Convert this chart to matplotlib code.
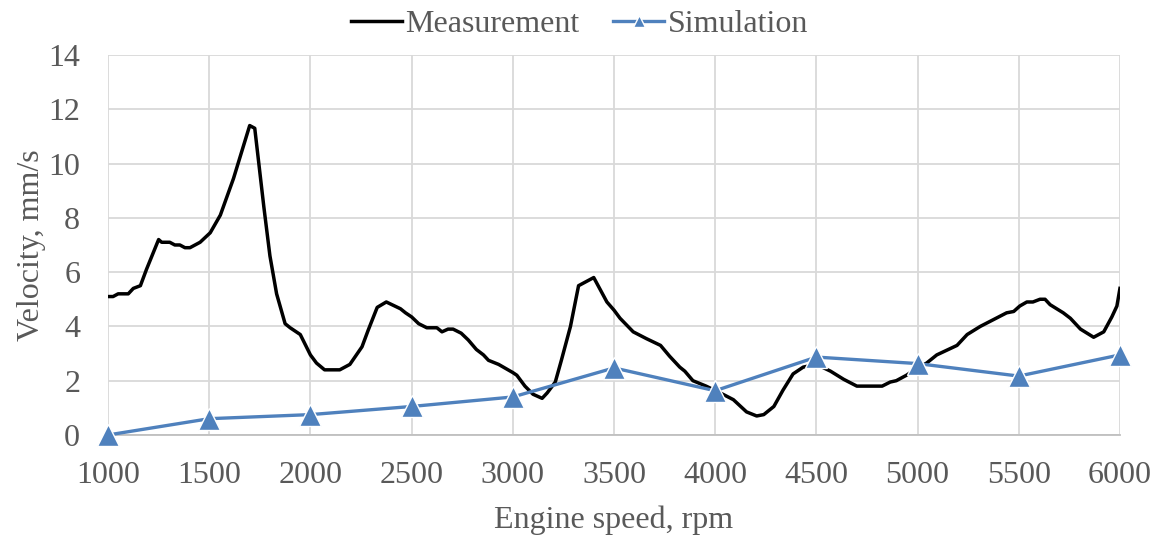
import matplotlib
matplotlib.use("Agg")
import matplotlib.pyplot as plt

meas_rpm = [1000, 1025, 1050, 1100, 1125, 1160, 1190, 1250, 1265, 1305, 1330, 1355, 1380, 1405,
            1455, 1505, 1555, 1620, 1700, 1725, 1770, 1800, 1833, 1875, 1900, 1950, 2000, 2030,
            2070, 2145, 2195, 2255, 2285, 2330, 2375, 2445, 2470, 2500, 2535, 2575, 2625, 2650,
            2680, 2705, 2745, 2780, 2820, 2855, 2880, 2930, 3000, 3020, 3060, 3100, 3145, 3170,
            3210, 3240, 3285, 3325, 3400, 3465, 3500, 3530, 3595, 3660, 3730, 3775, 3825, 3850,
            3890, 3955, 4025, 4090, 4155, 4205, 4240, 4290, 4335, 4385, 4435, 4500, 4570, 4635,
            4700, 4825, 4865, 4895, 4945, 4995, 5045, 5095, 5195, 5245, 5310, 5375, 5440, 5475,
            5505, 5540, 5570, 5605, 5630, 5655, 5720, 5755, 5805, 5870, 5920, 5960, 5985, 6000]
meas_vel = [5.1, 5.1, 5.2, 5.2, 5.4, 5.5, 6.1, 7.2, 7.1, 7.1, 7.0, 7.0, 6.9, 6.9,
            7.1, 7.45, 8.1, 9.45, 11.4, 11.3, 8.4, 6.6, 5.2, 4.1, 3.95, 3.7, 2.95, 2.65,
            2.4, 2.4, 2.6, 3.25, 3.85, 4.7, 4.9, 4.65, 4.5, 4.35, 4.1, 3.95, 3.95, 3.8,
            3.9, 3.9, 3.75, 3.5, 3.15, 2.95, 2.75, 2.6, 2.3, 2.2, 1.8, 1.5, 1.35, 1.55,
            1.95, 2.75, 4.0, 5.5, 5.8, 4.9, 4.6, 4.3, 3.8, 3.55, 3.3, 2.9, 2.5, 2.35,
            2.0, 1.8, 1.55, 1.3, 0.85, 0.7, 0.75, 1.05, 1.65, 2.25, 2.5, 2.6, 2.35, 2.05,
            1.8, 1.8, 1.95, 2.0, 2.2, 2.45, 2.65, 2.95, 3.3, 3.7, 4.0, 4.25, 4.5, 4.55,
            4.75, 4.9, 4.9, 5.0, 5.0, 4.8, 4.5, 4.3, 3.9, 3.6, 3.8, 4.35, 4.75, 5.4]

# simulated velocity
sim_rpm = [1000, 1500, 2000, 2500, 3000, 3500, 4000, 4500, 5000, 5500, 6000]
sim_vel = [0.0, 0.6, 0.75, 1.05, 1.4, 2.47, 1.63, 2.87, 2.63, 2.17, 2.95]

grey = "#595959"
fs = 23
plt.rcParams['font.family'] = ['Liberation Serif', 'DejaVu Serif']

fig = plt.figure(figsize=(11.59, 5.37), dpi=100)
ax = fig.add_axes([0.0932, 0.19, 0.8731, 0.7076])

ax.plot(meas_rpm, meas_vel, color="black", lw=2.5, label="Measurement", zorder=3)
ax.plot(sim_rpm, sim_vel, color="#4F81BD", lw=2.4, marker="^", markersize=16,
        markeredgecolor="white", markeredgewidth=1, label="Simulation", zorder=4,
        clip_on=False)

ax.set_xlim(1000, 6000)
ax.set_ylim(0, 14)
ax.set_xticks(range(1000, 6001, 500))
ax.set_yticks(range(0, 15, 2))
ax.grid(True, color="#D9D9D9", lw=1.3)
ax.set_axisbelow(True)
for s in ["top", "right", "left"]:
    ax.spines[s].set_visible(False)
ax.spines["bottom"].set_color("#BFBFBF")
ax.spines["bottom"].set_linewidth(1.3)
ax.tick_params(length=0, labelsize=fs, labelcolor=grey)
ax.tick_params(axis="x", pad=19)
ax.tick_params(axis="y", pad=20)

ax.set_xlabel("Engine speed, rpm", fontsize=fs, color=grey, labelpad=11)
ax.set_ylabel("Velocity, mm/s", fontsize=fs, color=grey, labelpad=2)

leg = fig.legend(loc="center", bbox_to_anchor=(0.5, 0.955), ncol=2, frameon=False,
                 fontsize=fs, handlelength=1.6, handletextpad=0.1, columnspacing=1.05,
                 markerscale=0.5)
for t in leg.get_texts():
    t.set_color(grey)

fig.savefig("out.png", dpi=100)
